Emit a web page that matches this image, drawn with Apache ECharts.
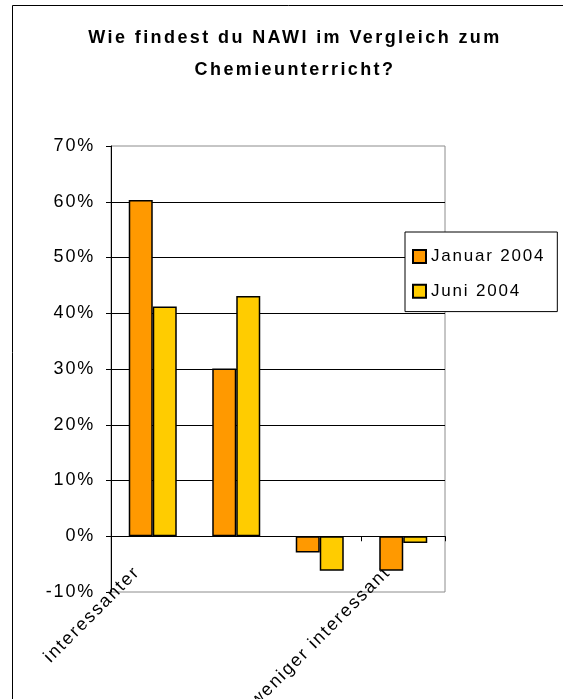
<!DOCTYPE html>
<html>
<head>
<meta charset="utf-8">
<script src="https://cdn.jsdelivr.net/npm/echarts@6/dist/echarts.min.js"></script>
<style>
  body{margin:0;background:#fff}
  #chart{width:563px;height:699px}
</style>
</head>
<body>
<div id="chart"></div>
<script>
// 数据
const categories = ['interessanter', '', '', 'weniger interessant']
const januar2004 = [60.3, 30.1, -2.9, -6.2]
const juni2004 = [41.2, 43.1, -6.2, -1.2]
const yTicks = [-10, 70, 10]   // min, max, interval

// the Excel export has wide letter spacing, imitate it with canvas letterSpacing
const ctxProto = CanvasRenderingContext2D.prototype
const rawFillText = ctxProto.fillText
const rawMeasureText = ctxProto.measureText
function spacingOf(font){
  return /bold/.test(font) ? '2.4px' : '1.8px'
}
ctxProto.fillText = function(...args){
  this.letterSpacing = spacingOf(this.font)
  return rawFillText.apply(this, args)
}
ctxProto.measureText = function(text){
  this.letterSpacing = spacingOf(this.font)
  return rawMeasureText.call(this, text)
}

const font = 'Liberation Sans, Arial, sans-serif'

function renderChart(){
  const dom = document.querySelector('#chart')
  const myChart = echarts.init(dom)
  const option = {
    backgroundColor: '#fff',
    animation: false,
    // 标题
    title: {
      text: 'Wie findest du NAWI im Vergleich zum\nChemieunterricht?',
      left: 290,
      top: 17,
      textAlign: 'center',
      textStyle: {
        fontFamily: font,
        fontWeight: 'bold',
        fontSize: 18,
        lineHeight: 32,
        color: '#000'
      }
    },
    // 外框
    graphic: [{
      type: 'rect',
      shape: { x: 12.5, y: 5.5, width: 700, height: 800 },
      style: { fill: 'none', stroke: '#000', lineWidth: 1 },
      silent: true
    }],
    legend: {
      orient: 'vertical',
      left: 405,
      top: 232,
      data: ['Januar 2004', 'Juni 2004'],
      icon: 'rect',
      itemWidth: 13,
      itemHeight: 13,
      itemGap: 16,
      padding: [15, 12, 11, 7],
      backgroundColor: '#fff',
      borderColor: '#000',
      borderWidth: 1,
      textStyle: {
        fontFamily: font,
        fontSize: 17,
        lineHeight: 18,
        color: '#000'
      }
    },
    grid: {
      left: 111,
      right: 118,
      top: 146,
      bottom: 107,
      show: true,
      backgroundColor: '#fff',
      borderColor: '#8c8c8c',
      borderWidth: 1,
      outerBoundsMode: 'none'
    },
    xAxis: [
      {
        // 0% 处的轴线和刻度
        type: 'category',
        data: categories,
        axisLine: { onZero: true, lineStyle: { color: '#000', width: 1 } },
        axisTick: { show: true, length: 5, lineStyle: { color: '#000' } },
        axisLabel: { show: false },
        splitLine: { show: false }
      },
      {
        // 底部的斜向文字
        type: 'category',
        data: categories,
        position: 'bottom',
        axisLine: { show: false, onZero: false },
        axisTick: { show: false },
        axisLabel: {
          interval: 0,
          rotate: 45,
          margin: -38,
          padding: [0, 22, 0, 0],
          fontFamily: font,
          fontSize: 18,
          color: '#000'
        },
        splitLine: { show: false }
      }
    ],
    yAxis: {
      type: 'value',
      min: yTicks[0],
      max: yTicks[1],
      interval: yTicks[2],
      axisLine: { show: true, lineStyle: { color: '#000', width: 1 } },
      axisTick: { show: true, length: 5, lineStyle: { color: '#000' } },
      axisLabel: {
        formatter: '{value}%',
        margin: 16,
        fontFamily: font,
        fontSize: 18,
        color: '#000'
      },
      splitLine: {
        show: true,
        showMinLine: false,
        showMaxLine: false,
        lineStyle: { color: '#000', width: 1 }
      }
    },
    series: [
      {
        name: 'Januar 2004',
        type: 'bar',
        data: januar2004,
        barGap: '0%',
        barCategoryGap: '42.5%',
        itemStyle: { color: '#ff9900', borderColor: '#000', borderWidth: 1.5 }
      },
      {
        name: 'Juni 2004',
        type: 'bar',
        data: juni2004,
        itemStyle: { color: '#ffcc00', borderColor: '#000', borderWidth: 1.5 }
      }
    ]
  }
  myChart.setOption(option)
}

renderChart()
</script>
</body>
</html>
